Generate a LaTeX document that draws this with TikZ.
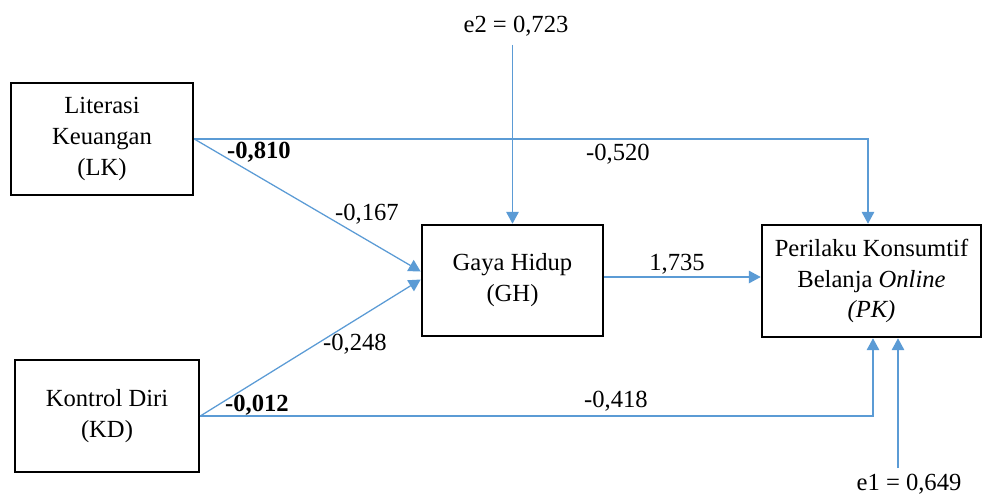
\documentclass[tikz,border=0pt]{standalone}
\usepackage{fontspec}
\setmainfont{Liberation Serif}
\usetikzlibrary{arrows.meta,calc}
\definecolor{pathblue}{RGB}{91,155,213}

\begin{document}
\begin{tikzpicture}[
          x=0.025cm, y=-0.025cm,
          box/.style={draw, line width=1.8pt, align=center, inner sep=0pt, font=\fontsize{17.5}{22}\selectfont},
          arr/.style={-{Triangle[length=8.5pt,width=9pt]}, pathblue, line width=0.9pt},
          coef/.style={inner sep=1pt, font=\fontsize{17.5}{22}\selectfont}
      ]
        \useasboundingbox (0,0) rectangle (982,496);
        % variables
        \node[box, minimum width=4.55cm, minimum height=2.8cm] (LK) at (102,139) {Literasi\\Keuangan\\(LK)};
        \node[box, minimum width=4.6cm, minimum height=2.8cm] (KD) at (107,416) {Kontrol Diri\\(KD)};
        \node[box, minimum width=4.525cm, minimum height=2.775cm] (GH) at (512.5,280.5) {Gaya Hidup\\(GH)};
        \node[box, minimum width=5.475cm, minimum height=2.8cm] (PK) at (871.5,281) {Perilaku Konsumtif\\Belanja \textit{Online}\\\textit{(PK)}};
        % error terms
        \node[coef, inner sep=6pt] (e2) at (516,26) {e2 = 0,723};
        \node[coef, inner sep=4pt] (e1) at (909,484) {e1 = 0,649};
        % entry points
        \coordinate (pktop) at ($(PK.north)+(-3.5,0)$);
        \coordinate (pkbotl) at ($(PK.south)+(1.5,0)$);
        \coordinate (pkbotr) at ($(PK.south)+(26.5,0)$);
        % paths
        \draw[arr] (LK.east) -| (pktop);
        \draw[arr] (LK.east) -- ($(GH.west)+(0,-9)$);
        \draw[arr] (KD.east) -- ($(GH.west)+(0,-1)$);
        \draw[arr] (KD.east) -| (pkbotl);
        \draw[arr] ($(GH.east)+(0,-3.5)$) -- ($(GH.east -| PK.west)+(0,-3.5)$);
        \draw[arr] (GH.north |- e2.south) -- (GH.north);
        \draw[arr] (e1.north -| pkbotr) -- (pkbotr);
        % coefficients
        \node[coef] (b810) at (259,152) {\textbf{-0,810}};
        \node[coef] (b167) at (367,214) {-0,167};
        \node[coef] (b248) at (355,344) {-0,248};
        \node[coef] (b012) at (257,405) {\textbf{-0,012}};
        \node[coef] (b520) at (618,154) {-0,520};
        \node[coef] (b735) at (677,264) {1,735};
        \node[coef] (b418) at (616,401) {-0,418};
      \end{tikzpicture}
\end{document}
